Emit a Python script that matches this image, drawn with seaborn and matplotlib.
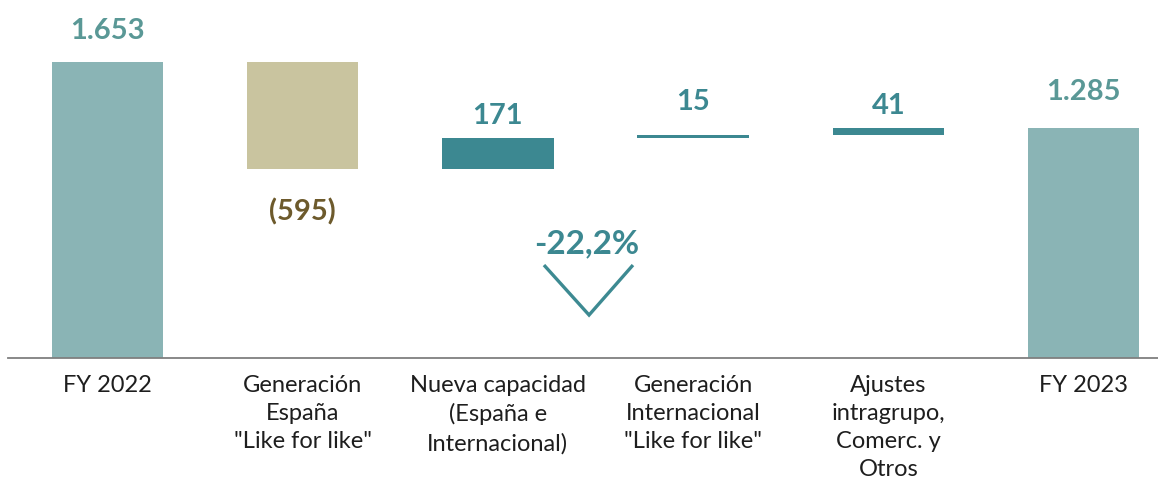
import numpy as np
import pandas as pd
import matplotlib
matplotlib.use("Agg")
import matplotlib.pyplot as plt
import seaborn as sns

# --- data -------------------------------------------------------------
categories = [
    "FY 2022",
    "Generación\nEspaña\n\"Like for like\"",
    "Nueva capacidad\n(España e\nInternacional)",
    "Generación\nInternacional\n\"Like for like\"",
    "Ajustes\nintragrupo,\nComerc. y\nOtros",
    "FY 2023",
]
changes = [1653, -595, 171, 15, 41, 1285]
is_total = [True, False, False, False, False, True]
value_labels = ["1.653", "(595)", "171", "15", "41", "1.285"]
variation_label = "-22,2%"

# --- waterfall geometry derived from the data --------------------------
bottoms = []
running = 0
for v, tot in zip(changes, is_total):
    if tot:
        bottoms.append(0)
        running = v
    else:
        bottoms.append(running)
        running += v

df = pd.DataFrame({"cat": categories, "height": changes, "bottom": bottoms})

# --- style ------------------------------------------------------------
sns.set_theme(style="white")
plt.rcParams["font.family"] = ["Lato", "DejaVu Sans"]

total_color = "#8AB4B5"
neg_color = "#C9C49F"
pos_color = "#3C8891"
label_colors = ["#5A9896", "#6D5A2C", "#3C8891", "#3C8891", "#3C8891", "#5A9896"]

fig = plt.figure(figsize=(11.58, 4.87), dpi=100)
ax = fig.add_axes([8 / 1158, 129 / 487, 1150 / 1158, 358 / 487])

sns.barplot(data=df, x="cat", y="height", bottom=df["bottom"], order=categories,
            width=0.57, color=total_color, ax=ax, errorbar=None)

for patch, v, tot in zip(ax.patches, changes, is_total):
    if tot:
        patch.set_facecolor(total_color)
    elif v < 0:
        patch.set_facecolor(neg_color)
    else:
        patch.set_facecolor(pos_color)
    patch.set_edgecolor("none")

ax.set_xlim(-0.51, 5.382)
ax.set_ylim(0, 1999)

# value labels (offsets in points from the bar end)
label_offsets = [22, -31, 16, 24, 16, 26]
for i, (v, b, lab, col, off) in enumerate(zip(changes, bottoms, value_labels,
                                               label_colors, label_offsets)):
    anchor = min(b, b + v) if v < 0 else max(b, b + v)
    ax.annotate(lab, (i, anchor), xytext=(0, off), textcoords="offset points",
                ha="center", va="center", fontsize=21, fontweight="bold", color=col)

# overall variation with a chevron pointing down
ax.text(2.455, 640, variation_label, ha="center", va="center", fontsize=24,
        fontweight="bold", color=pos_color)
ax.plot([2.236, 2.467, 2.692], [519, 240, 519], color="#3D8A92", lw=2.4,
        solid_joinstyle="miter", solid_capstyle="butt")

# axes cosmetics
for s in ["top", "right", "left"]:
    ax.spines[s].set_visible(False)
ax.spines["bottom"].set_color("#7F7F7F")
ax.spines["bottom"].set_linewidth(1.3)
ax.set_yticks([])
ax.set_xlabel("")
ax.set_ylabel("")
ax.tick_params(axis="x", length=0, pad=12)
ax.set_xticks(range(len(categories)))
ax.set_xticklabels(categories, fontsize=17, color="#1E1E1E", linespacing=1.42, va="top")

fig.savefig("out.png", dpi=100)
